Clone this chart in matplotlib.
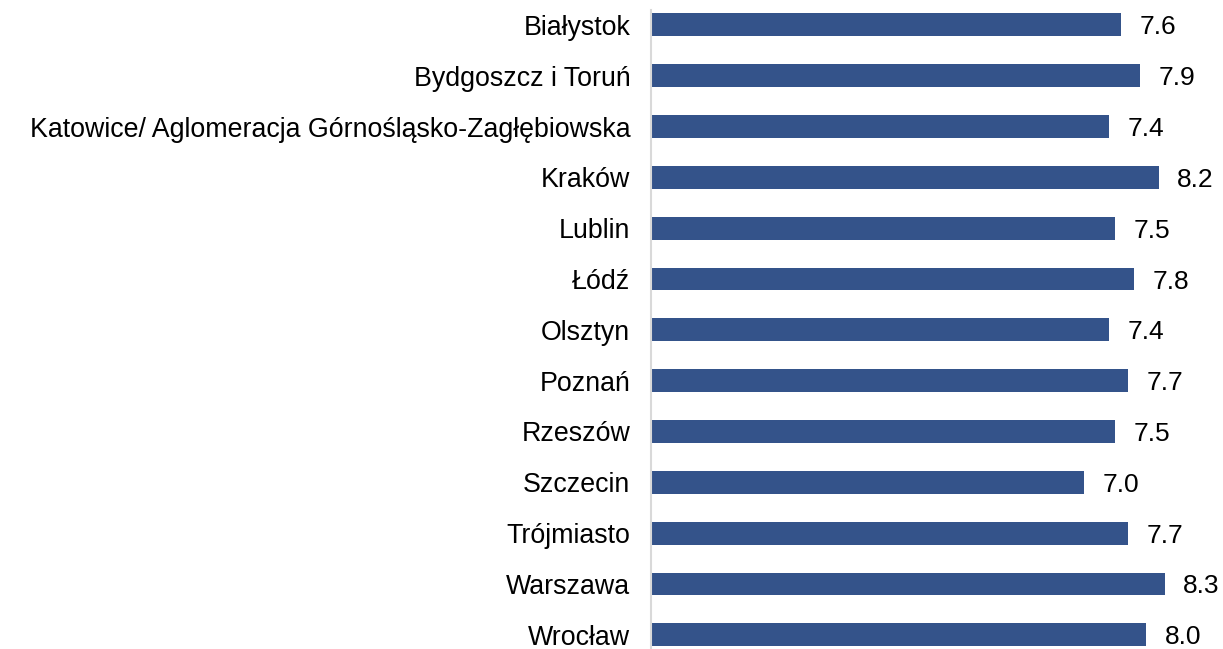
import matplotlib.pyplot as plt

plt.rcParams['font.family'] = ['Liberation Sans', 'DejaVu Sans']

cities = ['Białystok', 'Bydgoszcz i Toruń', 'Katowice/ Aglomeracja Górnośląsko-Zagłębiowska',
          'Kraków', 'Lublin', 'Łódź', 'Olsztyn', 'Poznań', 'Rzeszów', 'Szczecin',
          'Trójmiasto', 'Warszawa', 'Wrocław']
values = [7.6, 7.9, 7.4, 8.2, 7.5, 7.8, 7.4, 7.7, 7.5, 7.0, 7.7, 8.3, 8.0]

fig = plt.figure(figsize=(12.23, 6.49), dpi=100)
ax = fig.add_axes([651 / 1223, 0, (1223 - 651) / 1223, 1])

ypos = list(range(len(cities)))
ax.barh(ypos, values, height=0.45, color='#34538a')
for y, v in zip(ypos, values):
    ax.text(v + 0.3, y + 0.05, f'{v:.1f}', va='center', ha='left', fontsize=19)

ax.set_xlim(0, 572 / 61.9)
ax.set_ylim(12.28, -0.49)
ax.set_yticks(ypos)
ax.set_yticklabels(cities, fontsize=19.3)
ax.tick_params(axis='y', length=0, pad=15)
ax.set_xticks([])
for s in ['top', 'right', 'bottom']:
    ax.spines[s].set_visible(False)
ax.spines['left'].set_color('#d9d9d9')
ax.spines['left'].set_linewidth(1.5)
ax.spines['left'].set_bounds(-0.3, 12.28)

fig.savefig('out.png', dpi=100)
